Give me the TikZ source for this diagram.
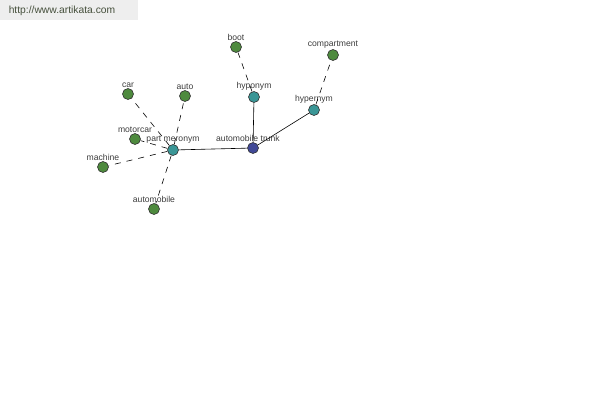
\documentclass[tikz,border=0pt]{standalone}
\usepackage{fontspec}
\setmainfont{Liberation Sans}
\begin{document}
\begin{tikzpicture}[x=1pt,y=-1pt,
  vtx/.style={circle,draw=black!80,line width=0.6pt,minimum size=11pt,inner sep=0pt},
  gnode/.style={vtx,fill={rgb,255:red,78;green,138;blue,62}},
  tnode/.style={vtx,fill={rgb,255:red,58;green,150;blue,150}},
  bnode/.style={vtx,fill={rgb,255:red,64;green,72;blue,150}},
  lbl/.style={font=\fontsize{8.6}{9}\selectfont,text={rgb,255:red,60;green,60;blue,60},inner sep=0.5pt,label distance=0pt},
  solidedge/.style={draw=black,line width=0.6pt},
  dashedge/.style={draw=black,line width=0.6pt,dash pattern=on 6pt off 6pt}]
\useasboundingbox (0,0) rectangle (600,400);
\fill[fill={rgb,255:red,238;green,238;blue,238}] (0,0) rectangle (138,20);
\node[font=\fontsize{10.3}{11}\selectfont,text={rgb,255:red,70;green,80;blue,60},inner sep=0pt] (wm) at (62,11) {http://www.artikata.com};
\node[bnode,label={[lbl,xshift=-5pt]above:automobile trunk}] (trunk) at (253,148) {};
\node[tnode,label={[lbl]above:part meronym}] (pm) at (173,150) {};
\node[tnode,label={[lbl]above:hyponym}] (hypo) at (254,97) {};
\node[tnode,label={[lbl]above:hypernym}] (hyper) at (314,110) {};
\node[gnode,label={[lbl]above:boot}] (boot) at (236,47) {};
\node[gnode,label={[lbl]above:compartment}] (comp) at (333,55) {};
\node[gnode,label={[lbl]above:car}] (car) at (128,94) {};
\node[gnode,label={[lbl]above:auto}] (auto) at (185,96) {};
\node[gnode,label={[lbl]above:motorcar}] (motor) at (135,139) {};
\node[gnode,label={[lbl]above:machine}] (mach) at (103,167) {};
\node[gnode,label={[lbl]above:automobile}] (autom) at (154,209) {};
\draw[solidedge] (trunk) -- (pm);
\draw[solidedge] (trunk) -- (hypo);
\draw[solidedge] (trunk) -- (hyper);
\draw[dashedge] (hypo) -- (boot);
\draw[dashedge] (hyper) -- (comp);
\draw[dashedge] (pm) -- (car);
\draw[dashedge] (pm) -- (auto);
\draw[dashedge] (pm) -- (motor);
\draw[dashedge] (pm) -- (mach);
\draw[dashedge] (pm) -- (autom);
\end{tikzpicture}
\end{document}
